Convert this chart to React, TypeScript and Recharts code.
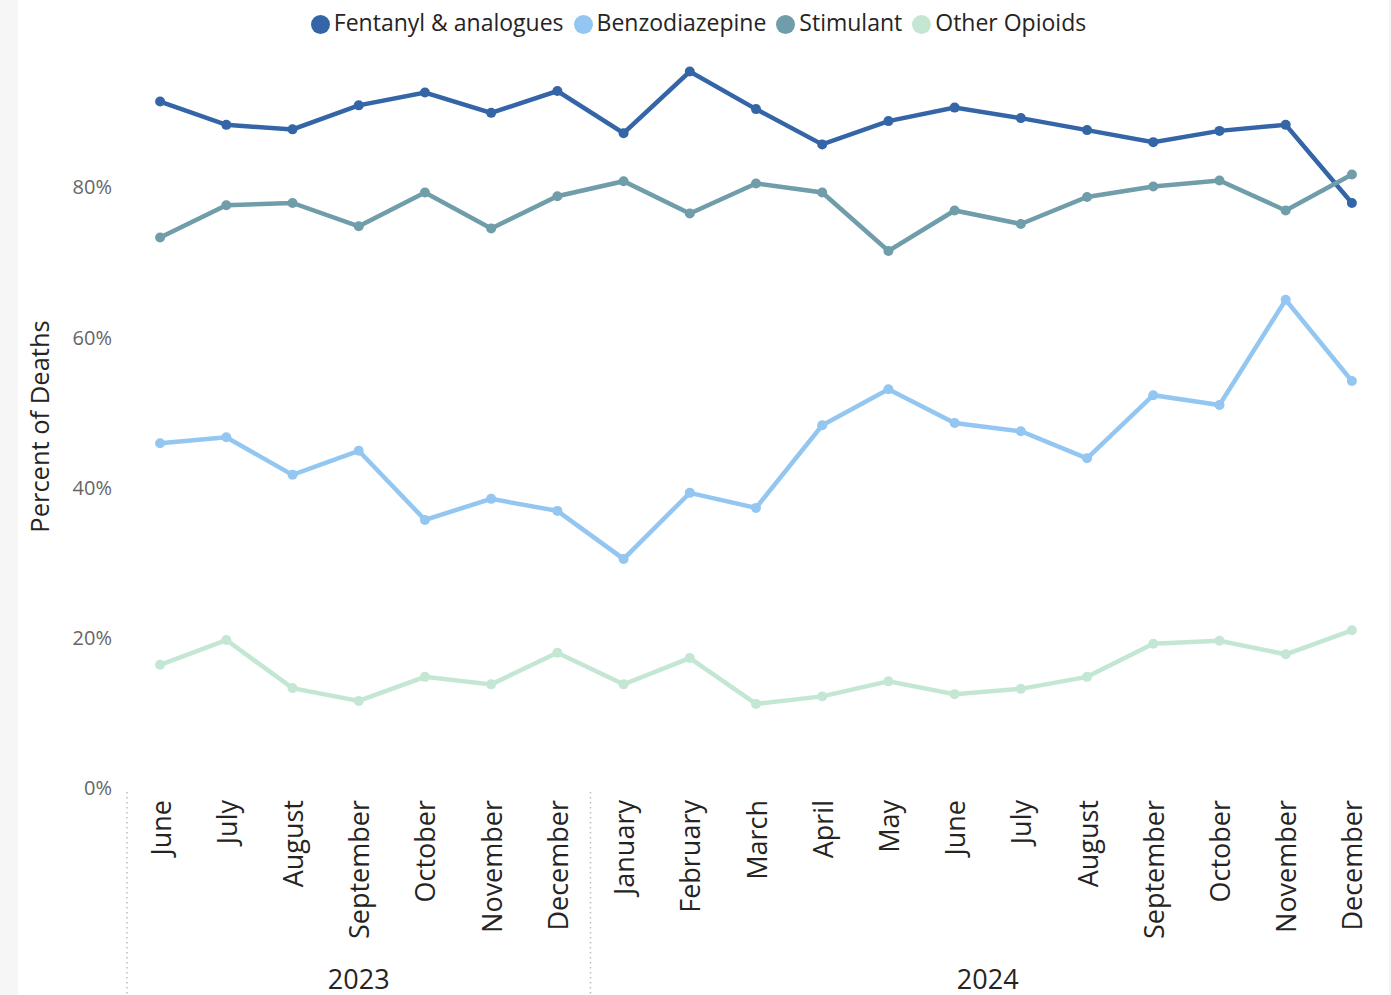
import React from "react";
import { LineChart, Line, XAxis, YAxis, Legend } from "recharts";

const months = [
  "June", "July", "August", "September", "October", "November", "December",
  "January", "February", "March", "April", "May", "June", "July", "August",
  "September", "October", "November", "December",
];
const years = [
  "2023", "2023", "2023", "2023", "2023", "2023", "2023",
  "2024", "2024", "2024", "2024", "2024", "2024", "2024", "2024", "2024", "2024", "2024", "2024",
];
const fentanyl = [91.4, 88.3, 87.7, 90.9, 92.6, 89.9, 92.8, 87.2, 95.4, 90.4, 85.7, 88.8, 90.6, 89.2, 87.6, 86.0, 87.5, 88.3, 77.9];
const benzodiazepine = [45.9, 46.7, 41.7, 44.9, 35.7, 38.5, 36.9, 30.5, 39.3, 37.3, 48.3, 53.1, 48.6, 47.5, 43.9, 52.3, 51.0, 65.0, 54.2];
const stimulant = [73.3, 77.6, 77.9, 74.8, 79.3, 74.5, 78.8, 80.8, 76.5, 80.5, 79.3, 71.5, 76.9, 75.1, 78.7, 80.1, 80.9, 76.9, 81.7];
const otherOpioids = [16.4, 19.7, 13.3, 11.6, 14.8, 13.8, 18.0, 13.8, 17.3, 11.2, 12.2, 14.2, 12.5, 13.2, 14.8, 19.2, 19.6, 17.8, 21.0];
const yTicks = [0, 20, 40, 60, 80];

const series = [
  { key: "fentanyl", name: "Fentanyl & analogues", color: "#3465A7" },
  { key: "benzo", name: "Benzodiazepine", color: "#93C6F0" },
  { key: "stimulant", name: "Stimulant", color: "#6F9DAA" },
  { key: "other", name: "Other Opioids", color: "#C4E7D4" },
];

const data = months.map((m, i) => ({
  key: years[i] + "-" + i,
  month: m,
  year: years[i],
  fentanyl: fentanyl[i],
  benzo: benzodiazepine[i],
  stimulant: stimulant[i],
  other: otherOpioids[i],
}));

function groupInfo(i: number) {
  const y = years[i];
  const start = years.indexOf(y);
  const count = years.filter((v) => v === y).length;
  return { start, count, year: y };
}

function MonthTick(props: any) {
  const { x, y, payload } = props;
  const i = payload.index;
  const half = payload.offset || 0;
  const g = groupInfo(i);
  const ty = y + 12;
  return (
    <g>
      <text
        x={x}
        y={ty}
        transform={`rotate(-90, ${x}, ${ty})`}
        textAnchor="end"
        dominantBaseline="central"
        fill="#252423"
        fontSize={27}
      >
        {months[i]}
      </text>
      {g.start === i && (
        <>
          <line
            x1={x - half}
            x2={x - half}
            y1={y + 4}
            y2={y + 207}
            stroke="#bdbdbd"
            strokeWidth={1.5}
            strokeDasharray="1.5 3.5"
          />
          <text
            x={x - half + g.count * half}
            y={y + 190}
            textAnchor="middle"
            dominantBaseline="central"
            fill="#252423"
            fontSize={27}
          >
            {g.year}
          </text>
        </>
      )}
    </g>
  );
}

function YTitle(props: any) {
  const vb = props.viewBox || {};
  const cx = 39;
  const cy = vb.y + vb.height / 2 + 14;
  return (
    <text
      x={cx}
      y={cy}
      transform={`rotate(-90, ${cx}, ${cy})`}
      textAnchor="middle"
      dominantBaseline="central"
      fill="#252423"
      fontSize={25.5}
    >
      Percent of Deaths
    </text>
  );
}

const legendOrder = (item: any) => series.findIndex((s) => s.name === item.value);

export default function App() {
  return (
    <div
      style={{
        position: "absolute",
        left: 0,
        top: 0,
        width: 1391,
        height: 995,
        background: "#f6f6f6",
        fontFamily: "'Open Sans', 'Noto Sans', sans-serif",
        overflow: "hidden",
      }}
    >
      <div style={{ position: "absolute", left: 18, top: 0, width: 1371, height: 995, background: "#ffffff" }} />
      <div style={{ position: "absolute", left: 0, top: 0 }}>
        <LineChart width={1391} height={995} data={data} margin={{ top: 7, right: 6, left: 0, bottom: 0 }}>
          <Legend
            verticalAlign="top"
            align="center"
            iconType="circle"
            iconSize={19}
            itemSorter={legendOrder}
            wrapperStyle={{ fontSize: 23, lineHeight: "30px", paddingLeft: 11 }}
            formatter={(value: string) => <span style={{ color: "#252423" }}>{value}</span>}
          />
          <XAxis
            dataKey="key"
            scale="band"
            interval={0}
            axisLine={false}
            tickLine={false}
            tickSize={0}
            tickMargin={0}
            height={207}
            tick={<MonthTick />}
          />
          <YAxis
            domain={[0, 100]}
            ticks={yTicks}
            width={127}
            axisLine={false}
            tickLine={false}
            tickSize={0}
            tickMargin={15}
            tick={{ fill: "#666666", fontSize: 20 }}
            tickFormatter={(v: number) => v + "%"}
            label={<YTitle />}
          />
          {series.map((s) => (
            <Line
              key={s.key}
              dataKey={s.key}
              name={s.name}
              stroke={s.color}
              strokeWidth={4.5}
              dot={{ r: 5, fill: s.color, stroke: s.color, strokeWidth: 0 }}
              activeDot={false}
              isAnimationActive={false}
            />
          ))}
        </LineChart>
      </div>
    </div>
  );
}
